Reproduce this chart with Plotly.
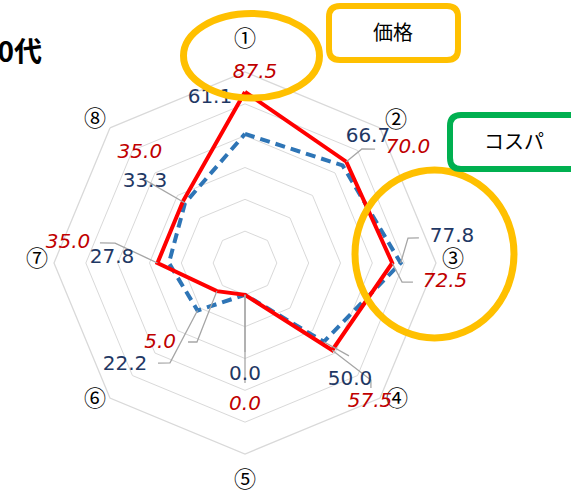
import plotly.graph_objects as go

# ---------------- data ----------------
categories = ["①", "②", "③", "④", "⑤", "⑥", "⑦", "⑧"]
red_values = [87.5, 70.0, 72.5, 57.5, 0.0, 5.0, 35.0, 35.0]
blue_values = [61.1, 66.7, 77.8, 50.0, 0.0, 22.2, 27.8, 33.3]
radial_ticks = [0, 20, 40, 60, 80]
title_text = "20代"
callout_price = "価格"
callout_cospa = "コスパ"

# ---------------- label placement (polar r / theta in degrees) ----------------
category_label_pos = [(120.1, 0.0), (110.2, 46.8), (110.7, 89.4), (109.0, 132.2),
                      (117.6, 180.0), (108.1, 227.4), (110.7, 270.8), (110.2, 313.6)]
blue_label_pos = [(86.0, 348.0), (90.6, 44.3), (111.1, 82.8), (78.8, 138.1),
                  (50.4, 180.0), (79.0, 229.6), (63.6, 272.2), (60.9, 309.0)]
red_label_pos = [(99.6, 3.0), (105.3, 54.8), (106.2, 95.4), (97.4, 138.0),
                 (69.2, 180.0), (53.3, 226.7), (91.9, 276.4), (75.6, 316.3)]
leaders = [
    ("red", 1, [(82.6, 45.7), (88.6, 48.8)]),
    ("blue", 2, [(83.6, 81.3), (90.4, 81.8)]),
    ("red", 2, [(79.4, 96.9), (86.2, 96.5)]),
    ("blue", 3, [(67.6, 131.8)]),
    ("red", 3, [(88.0, 132.9), (91.5, 134.8)]),
    ("blue", 4, [(35.9, 180.0)]),
    ("red", 4, [(55.4, 180.0)]),
    ("red", 5, [(38.1, 211.3), (41.2, 215.8)]),
    ("blue", 5, [(58.5, 216.9), (63.3, 221.0)]),
    ("red", 6, [(41.6, 272.9), (62.6, 278.7), (72.0, 277.9)]),
    ("blue", 7, [(61.7, 309.7)]),
]

W, H = 571, 497
RED = "#FF0000"
BLUE = "#2E75B6"
RED_TXT = "#C00000"
BLUE_TXT = "#1F3864"
GRID = "#D9D9D9"
LEADER = "#A6A6A6"
FONT = "DejaVu Sans, Noto Sans CJK JP"
CJK = "Noto Sans CJK JP"

R_MIN, R_MAX = -20, 100
R2_MAX = 122


def px(x):
    return x / W


def py(y):
    return 1 - y / H


cx, cy, R = 245, 263, 191
R2 = R * (R2_MAX - R_MIN) / (R_MAX - R_MIN)
dom_x = [px(cx - R), px(cx + R)]
dom_y = [py(cy + R), py(cy - R)]
dom2_x = [px(cx - R2), px(cx + R2)]
dom2_y = [py(cy + R2), py(cy - R2)]

fig = go.Figure()

# main series (category polar)
fig.add_trace(go.Scatterpolar(
    r=blue_values + blue_values[:1], theta=categories + categories[:1],
    mode="lines", line=dict(color=BLUE, width=4, dash="10px,6px"),
    subplot="polar", showlegend=False, hoverinfo="skip"))
fig.add_trace(go.Scatterpolar(
    r=red_values + red_values[:1], theta=categories + categories[:1],
    mode="lines", line=dict(color=RED, width=4),
    subplot="polar", showlegend=False, hoverinfo="skip"))

# leader lines (numeric polar overlay, same scale)
step = 360 / len(categories)
for series, idx, verts in leaders:
    vals = red_values if series == "red" else blue_values
    rr = [vals[idx]] + [v[0] for v in verts]
    tt = [idx * step] + [v[1] for v in verts]
    fig.add_trace(go.Scatterpolar(
        r=rr, theta=tt, mode="lines", line=dict(color=LEADER, width=1.3),
        subplot="polar2", showlegend=False, hoverinfo="skip", cliponaxis=False))

# category labels
fig.add_trace(go.Scatterpolar(
    r=[p[0] for p in category_label_pos], theta=[p[1] for p in category_label_pos],
    mode="text", text=categories,
    textfont=dict(family=CJK, size=22, color="#000000"),
    subplot="polar2", showlegend=False, hoverinfo="skip", cliponaxis=False))

# data labels
fig.add_trace(go.Scatterpolar(
    r=[p[0] for p in blue_label_pos], theta=[p[1] for p in blue_label_pos],
    mode="text", text=[f"{v:.1f}" for v in blue_values],
    textfont=dict(family=FONT, size=20, color=BLUE_TXT),
    subplot="polar2", showlegend=False, hoverinfo="skip", cliponaxis=False))
fig.add_trace(go.Scatterpolar(
    r=[p[0] for p in red_label_pos], theta=[p[1] for p in red_label_pos],
    mode="text", text=[f"<i>{v:.1f}</i>" for v in red_values],
    textfont=dict(family=FONT, size=20, color=RED_TXT),
    subplot="polar2", showlegend=False, hoverinfo="skip", cliponaxis=False))


# shapes (callouts)
def rrect(x0, y0, x1, y1, rad):
    X0, X1 = px(x0), px(x1)
    Y0, Y1 = py(y0), py(y1)
    rx, ry = rad / W, rad / H
    return (f"M {X0+rx},{Y0} L {X1-rx},{Y0} Q {X1},{Y0} {X1},{Y0-ry} "
            f"L {X1},{Y1+ry} Q {X1},{Y1} {X1-rx},{Y1} L {X0+rx},{Y1} "
            f"Q {X0},{Y1} {X0},{Y1+ry} L {X0},{Y0-ry} Q {X0},{Y0} {X0+rx},{Y0} Z")


shapes = [
    dict(type="circle", xref="paper", yref="paper",
         x0=px(183.5), x1=px(319.5), y0=py(98), y1=py(13.5),
         line=dict(color="#FFC000", width=7)),
    dict(type="circle", xref="paper", yref="paper",
         x0=px(355), x1=px(514), y0=py(338), y1=py(170),
         line=dict(color="#FFC000", width=7)),
    dict(type="path", xref="paper", yref="paper", path=rrect(329, 6, 458, 60, 11),
         line=dict(color="#FFC000", width=6), fillcolor="rgba(0,0,0,0)"),
    dict(type="path", xref="paper", yref="paper", path=rrect(450, 115, 585, 169, 11),
         line=dict(color="#00B050", width=6), fillcolor="rgba(0,0,0,0)"),
]

annotations = [
    dict(text=f"<b>{title_text}</b>", xref="paper", yref="paper",
         x=px(44), y=py(50), xanchor="right", yanchor="middle", showarrow=False,
         font=dict(family=CJK, size=28, color="#000000")),
    dict(text=callout_price, xref="paper", yref="paper",
         x=px(393), y=py(32), xanchor="center", yanchor="middle", showarrow=False,
         font=dict(family=CJK, size=20, color="#000000")),
    dict(text=callout_cospa, xref="paper", yref="paper",
         x=px(514), y=py(140), xanchor="center", yanchor="middle", showarrow=False,
         font=dict(family=CJK, size=20, color="#000000")),
]

fig.update_layout(
    width=W, height=H,
    margin=dict(l=0, r=0, t=0, b=0),
    paper_bgcolor="white",
    showlegend=False,
    shapes=shapes,
    annotations=annotations,
    polar=dict(
        domain=dict(x=dom_x, y=dom_y),
        bgcolor="white",
        gridshape="linear",
        radialaxis=dict(range=[R_MIN, R_MAX], tickvals=radial_ticks, showticklabels=False,
                        showline=False, ticks="", gridcolor=GRID, gridwidth=1.3),
        angularaxis=dict(type="category", categoryarray=categories, rotation=90,
                         direction="clockwise", showgrid=False, showline=True,
                         linecolor=GRID, linewidth=1.3, ticks="", showticklabels=False),
    ),
    polar2=dict(
        domain=dict(x=dom2_x, y=dom2_y),
        bgcolor="rgba(0,0,0,0)",
        radialaxis=dict(range=[R_MIN, R2_MAX], visible=False),
        angularaxis=dict(type="linear", thetaunit="degrees", rotation=90,
                         direction="clockwise", visible=False),
    ),
)

fig.write_html("out.html", config={"displayModeBar": False},
               post_script="document.body.style.margin='0';")
